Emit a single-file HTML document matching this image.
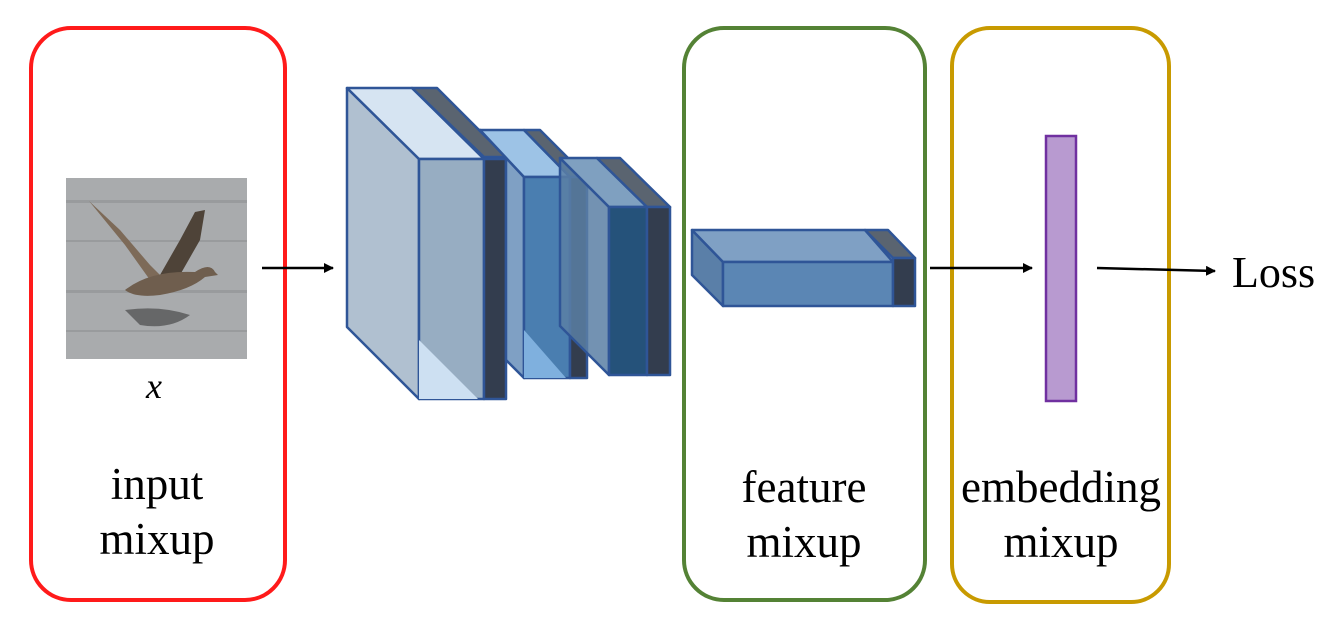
<!DOCTYPE html>
<html><head><style>
html,body{margin:0;padding:0;background:#fff;}
svg{display:block;}
text{font-family:"Liberation Serif",serif;}
</style></head><body>
<svg width="1341" height="626" viewBox="0 0 1341 626" xmlns="http://www.w3.org/2000/svg">
<defs>
<marker id="ah" markerWidth="10" markerHeight="10" refX="9" refY="5" orient="auto" markerUnits="userSpaceOnUse">
<path d="M0,0 L10,5 L0,10 z" fill="#000"/></marker>
</defs>
<!-- boxes -->
<rect x="31" y="28" width="254" height="572" rx="40" fill="none" stroke="#ff1a1a" stroke-width="4"/>
<rect x="684" y="28" width="241" height="572" rx="40" fill="none" stroke="#548235" stroke-width="4"/>
<rect x="952" y="28" width="217" height="574" rx="38" fill="none" stroke="#c89a00" stroke-width="4"/>

<!-- bird image -->
<rect x="66" y="178" width="181" height="181" fill="#a9abad"/>
<g fill="#8a8c8f" opacity="0.5">
<rect x="66" y="200" width="181" height="3"/><rect x="66" y="240" width="181" height="2"/><rect x="66" y="290" width="181" height="3"/><rect x="66" y="330" width="181" height="2"/>
</g>
<path d="M89,201 L120,230 L150,265 L160,275 L150,280 L125,245 Z" fill="#7d6a58"/>
<path d="M160,275 L180,240 L195,212 L205,210 L200,240 L180,275 Z" fill="#4e4338"/>
<path d="M125,290 Q150,270 195,272 Q210,262 215,272 L218,275 L205,277 Q190,290 160,295 Q135,298 125,290 Z" fill="#6f5e4e"/>
<path d="M125,310 Q160,305 190,315 Q170,330 140,325 Z" fill="#3a3a3a" opacity="0.6"/>

<text x="154" y="398" font-size="36" font-style="italic" text-anchor="middle">x</text>
<text x="157" y="499" font-size="45" text-anchor="middle">input</text>
<text x="157" y="554" font-size="45" text-anchor="middle">mixup</text>
<text x="804" y="502" font-size="45" text-anchor="middle">feature</text>
<text x="804" y="557" font-size="45" text-anchor="middle">mixup</text>
<text x="1061" y="502" font-size="45" text-anchor="middle">embedding</text>
<text x="1061" y="557" font-size="45" text-anchor="middle">mixup</text>
<text x="1232" y="287" font-size="44">Loss</text>

<!-- arrows -->
<line x1="262" y1="268" x2="333" y2="268" stroke="#000" stroke-width="2.5" marker-end="url(#ah)"/>
<line x1="930" y1="268" x2="1032" y2="268" stroke="#000" stroke-width="2.5" marker-end="url(#ah)"/>
<line x1="1097" y1="268" x2="1215" y2="271" stroke="#000" stroke-width="2.5" marker-end="url(#ah)"/>

<g stroke="#2f5597" stroke-width="2.5" stroke-linejoin="round">
<!-- block1 -->
<polygon points="347,88 419,159 419,399 347,327" fill="#b0c0d0"/>
<polygon points="347,88 412,88 484,159 419,159" fill="#d6e4f2"/>
<polygon points="412,88 437,88 506,157 484,157" fill="#5a6470"/>
<rect x="419" y="159" width="65" height="240" fill="#97adc2"/>
<polygon points="419,340 478,399 419,399" fill="#cde0f2" stroke="none"/>
<rect x="484" y="159" width="22" height="240" fill="#333d4e"/>
<!-- block2 -->
<polygon points="480,130 524,177 524,378 506,360 506,157 480,130" fill="#7fa0c4"/>
<polygon points="480,130 524,130 570,177 524,177" fill="#9dc3e6"/>
<polygon points="524,130 540,130 587,177 570,177" fill="#5a6470"/>
<rect x="524" y="177" width="46" height="201" fill="#4a7eb0"/>
<polygon points="524,330 566,378 524,378" fill="#7fb0de" stroke="none"/>
<rect x="570" y="177" width="17" height="201" fill="#333d4e"/>
<!-- block3 -->
<polygon points="560,158 609,207 609,375 560,326" fill="#5b7fa5" fill-opacity="0.85"/>
<polygon points="560,158 597,158 647,207 609,207" fill="#7fa0c0"/>
<polygon points="597,158 620,158 670,207 647,207" fill="#5a6470"/>
<rect x="609" y="207" width="38" height="168" fill="#25527a"/>
<rect x="647" y="207" width="23" height="168" fill="#333d4e"/>
<!-- feature bar -->
<polygon points="692,230 723,262 723,306 692,275" fill="#5a7fa8"/>
<polygon points="692,230 865,230 893,262 723,262" fill="#7fa0c4"/>
<rect x="723" y="262" width="170" height="44" fill="#5b86b4"/>
<polygon points="865,230 888,230 915,258 893,258" fill="#5a6470"/>
<rect x="893" y="258" width="22" height="48" fill="#333d4e"/>
</g>

<!-- embedding -->
<rect x="1046" y="136" width="30" height="265" fill="#b89ad0" stroke="#7030a0" stroke-width="2.5"/>
</svg>
</body></html>
